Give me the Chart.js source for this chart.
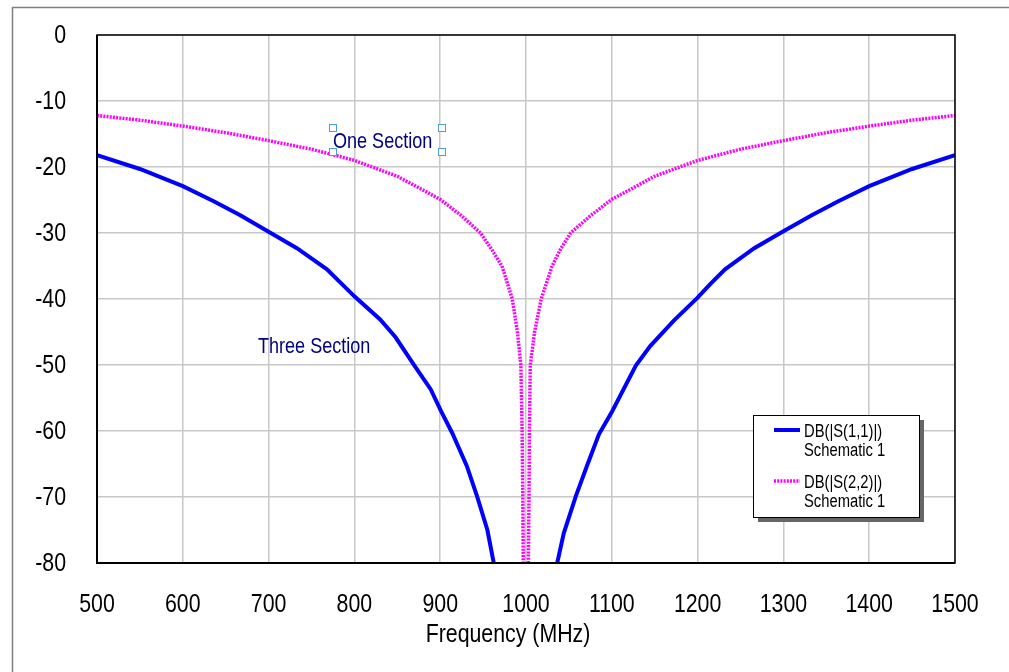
<!DOCTYPE html>
<html>
<head>
<meta charset="utf-8">
<script src="https://cdn.jsdelivr.net/npm/chart.js@4.4.1/dist/chart.umd.min.js"></script>
<style>
  html, body { margin: 0; padding: 0; background: #fff; }
  #wrap { position: relative; width: 1009px; height: 672px; }
</style>
</head>
<body>
<div id="wrap"><canvas id="chartS" width="1009" height="672"></canvas></div>
<script>
// S11 = three section, S22 = one section
const freqS11 = [500, 550, 600, 636, 667, 700, 733, 768, 800, 830, 848, 869, 889, 901, 914, 931, 943, 955, 962.4,
  1000, 1036.4, 1044, 1058, 1071, 1085, 1100.5, 1128, 1145, 1172, 1200, 1215, 1232, 1266, 1299, 1333, 1364, 1400, 1450, 1500];
const dbS11 = [-18.2, -20.3, -22.9, -25.2, -27.3, -29.8, -32.3, -35.5, -39.6, -43.1, -45.8, -49.9, -53.7, -57, -60.3, -65.3, -69.9, -75, -80,
  null, -80, -75.5, -69.9, -65.3, -60.5, -57, -50.1, -47.1, -43.3, -39.8, -37.7, -35.5, -32.3, -29.8, -27.3, -25.2, -22.9, -20.3, -18.2];

const freqS22 = [500, 550, 600, 650, 700, 750, 800, 850, 900, 925, 947, 960, 972, 984, 990, 994, 995.5, 996.3, 996.8,
  1000, 1002.7, 1003.5, 1004, 1005, 1010, 1017.7, 1030.5, 1040, 1052, 1075, 1100, 1150, 1200, 1250, 1300, 1350, 1400, 1450, 1500];
const dbS22 = [-12.2, -12.9, -13.8, -14.8, -16.0, -17.3, -19.0, -21.4, -24.9, -27.4, -30, -32.5, -35, -40, -45, -50, -60, -70, -80,
  null, -80, -70, -60, -50, -45, -40, -35, -32.5, -30, -27.4, -24.9, -21.4, -19.0, -17.3, -16.0, -14.8, -13.8, -12.9, -12.2];

const legendLabels = [['DB(|S(1,1)|)', 'Schematic 1'], ['DB(|S(2,2)|)', 'Schematic 1']];
const xTitle = 'Frequency (MHz)';
const notes = ['One Section', 'Three Section'];

const FONT = "'Liberation Sans', Arial, sans-serif";
const SQUEEZE = 0.82; // the original uses a narrow face

const pts = (fs, ds) => fs.map((f, i) => ({ x: f, y: ds[i] }));

function narrowText(c, txt, x, y, size, align, color) {
  c.save();
  c.font = size + 'px ' + FONT;
  c.fillStyle = color;
  c.textAlign = align;
  c.textBaseline = 'middle';
  c.translate(x, y);
  c.scale(SQUEEZE, 1);
  c.fillText(txt, 0, 0);
  c.restore();
}

// frame, tick labels, legend box, notes, axis title
const extras = {
  id: 'extras',
  beforeDraw(chart) {
    const c = chart.ctx;
    c.save();
    c.fillStyle = '#fff';
    c.fillRect(0, 0, chart.width, chart.height);
    c.strokeStyle = '#808080';
    c.lineWidth = 1.5;
    c.strokeRect(12.5, 7.5, 1100, 800);
    c.restore();
  },
  afterDraw(chart) {
    const c = chart.ctx;
    const a = chart.chartArea;
    const xs = chart.scales.x, ys = chart.scales.y;
    c.save();
    // plot frame
    c.strokeStyle = '#000';
    c.lineWidth = 1.5;
    c.strokeRect(a.left, a.top, a.right - a.left, a.bottom - a.top);
    c.lineWidth = 2;
    c.beginPath();
    c.moveTo(a.left, a.top); c.lineTo(a.left, a.bottom); c.lineTo(a.right, a.bottom);
    c.stroke();
    c.restore();

    // tick labels
    xs.ticks.forEach(t => narrowText(c, String(t.value), xs.getPixelForValue(t.value), a.bottom + 42, 26, 'center', '#000'));
    ys.ticks.forEach(t => narrowText(c, String(t.value), a.left - 31, ys.getPixelForValue(t.value) + 1, 26, 'right', '#000'));

    // axis title
    narrowText(c, xTitle, 508, 635, 26, 'center', '#000');

    // notes
    narrowText(c, notes[0], 333, 142, 22, 'left', '#000080');
    narrowText(c, notes[1], 258, 347, 22, 'left', '#000080');
    c.save();
    c.strokeStyle = '#4d9be6';
    c.lineWidth = 1;
    [[333, 128], [442, 128], [333, 152], [442, 152]].forEach(([hx, hy]) => {
      c.fillStyle = '#fff';
      c.fillRect(hx - 4, hy - 4, 8, 8);
      c.strokeRect(hx - 3.5, hy - 3.5, 7, 7);
    });

    // legend
    const lx = 753, ly = 415, lw = 166, lh = 102;
    c.fillStyle = '#666';
    c.fillRect(lx + 5, ly + 5, lw, lh);
    c.fillStyle = '#fff';
    c.fillRect(lx, ly, lw, lh);
    c.strokeStyle = '#000';
    c.lineWidth = 1;
    c.strokeRect(lx + 0.5, ly + 0.5, lw, lh);
    chart.data.datasets.forEach((ds, i) => {
      const y0 = ly + 15 + i * 51;
      c.strokeStyle = ds.borderColor;
      c.lineWidth = ds.borderWidth;
      c.setLineDash(ds.borderDash || []);
      c.beginPath();
      c.moveTo(lx + 21, y0); c.lineTo(lx + 47, y0);
      c.stroke();
      c.setLineDash([]);
      narrowText(c, legendLabels[i][0], lx + 51, y0 + 2, 18, 'left', '#000');
      narrowText(c, legendLabels[i][1], lx + 51, y0 + 21, 18, 'left', '#000');
    });
    c.restore();
  }
};

new Chart(document.getElementById('chartS').getContext('2d'), {
  type: 'line',
  data: {
    datasets: [
      {
        label: 'DB(|S(1,1)|) Schematic 1',
        data: pts(freqS11, dbS11),
        borderColor: '#0000ff',
        borderWidth: 4,
        pointRadius: 0,
        tension: 0,
        spanGaps: false
      },
      {
        label: 'DB(|S(2,2)|) Schematic 1',
        data: pts(freqS22, dbS22),
        borderColor: '#ff00ff',
        borderWidth: 3.5,
        borderDash: [2, 1.2],
        pointRadius: 0,
        tension: 0,
        spanGaps: false
      }
    ]
  },
  options: {
    responsive: false,
    animation: false,
    layout: { padding: { left: 0, top: 35, right: 54, bottom: 0 } },
    plugins: { legend: { display: false }, tooltip: { enabled: false } },
    scales: {
      x: {
        type: 'linear',
        min: 500, max: 1500,
        afterFit: s => { s.height = 109; },
        border: { display: false },
        grid: { color: '#c8c8c8', lineWidth: 1.5, drawTicks: false },
        ticks: { stepSize: 100, display: false }
      },
      y: {
        min: -80, max: 0,
        afterFit: s => { s.width = 97; },
        border: { display: false },
        grid: { color: '#c8c8c8', lineWidth: 1.5, drawTicks: false },
        ticks: { stepSize: 10, display: false }
      }
    }
  },
  plugins: [extras]
});
</script>
</body>
</html>
